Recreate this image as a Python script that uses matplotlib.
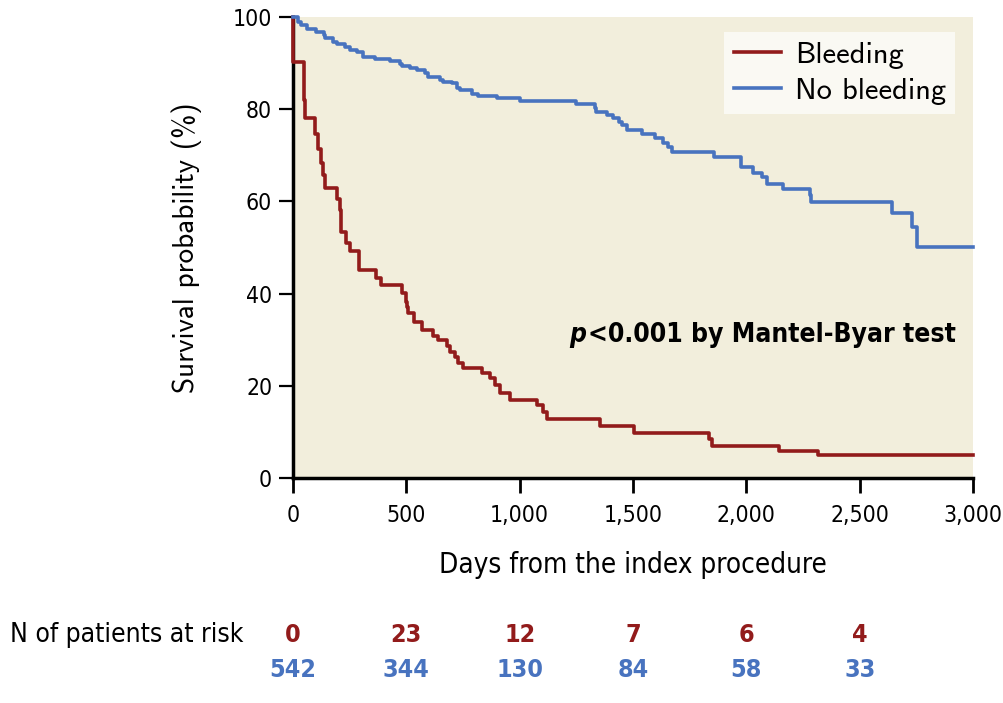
import matplotlib
matplotlib.use("Agg")
import matplotlib.pyplot as plt

# Kaplan-Meier steps: (day of step, survival % after it)
bleed_days = [0, 0, 48, 54, 96, 110, 125, 134, 140, 196, 206, 213, 232, 250, 290,
              368, 390, 479, 499, 505, 509, 534, 568, 619, 641, 678, 693, 715, 729,
              751, 832, 869, 891, 913, 957, 1075, 1104, 1119, 1354, 1506, 1837,
              1850, 2145, 2315, 3000]
bleed_surv = [100, 90.3, 82.0, 78.0, 74.6, 71.3, 68.4, 65.7, 63.0, 60.5, 58.1, 53.3,
              51.0, 49.2, 45.1, 43.4, 41.9, 40.1, 38.2, 37.2, 35.7, 33.9, 32.1, 30.8,
              29.9, 28.6, 27.4, 26.3, 25.0, 23.8, 22.7, 21.6, 20.2, 18.5, 16.9, 15.8,
              14.4, 12.7, 11.3, 9.8, 8.5, 6.9, 5.9, 5.0, 5.0]

nobleed_days = [0, 23, 34, 60, 101, 135, 141, 178, 193, 229, 251, 281, 310, 362, 428,
                472, 479, 516, 546, 582, 597, 649, 663, 700, 722, 737, 788, 818, 898,
                1001, 1248, 1332, 1335, 1384, 1413, 1440, 1450, 1472, 1538, 1597,
                1634, 1656, 1673, 1857, 1976, 2028, 2068, 2093, 2163, 2281, 2284,
                2644, 2729, 2751, 3000]
nobleed_surv = [100, 99.0, 98.3, 97.5, 96.8, 96.1, 95.4, 94.6, 94.1, 93.6, 92.8, 92.5,
                91.4, 90.8, 90.5, 89.9, 89.4, 88.9, 88.4, 87.8, 86.9, 86.3, 86.0, 85.6,
                84.7, 84.2, 83.4, 82.9, 82.4, 81.8, 81.1, 80.2, 79.5, 78.7, 78.0, 77.3,
                76.6, 75.5, 74.6, 73.7, 72.7, 71.9, 70.8, 69.7, 67.4, 66.2, 65.2, 63.7,
                62.6, 61.4, 59.9, 57.5, 54.4, 50.2, 50.2]

risk_days = [0, 500, 1000, 1500, 2000, 2500]
risk_bleed = ["0", "23", "12", "7", "6", "4"]
risk_nobleed = ["542", "344", "130", "84", "58", "33"]

x_ticks = [0, 500, 1000, 1500, 2000, 2500, 3000]
x_ticklabels = ["0", "500", "1,000", "1,500", "2,000", "2,500", "3,000"]
y_ticks = [0, 20, 40, 60, 80, 100]

red = "#921b1b"
blue = "#4873bf"
cond = dict(family=["DejaVu Sans"], fontstretch="condensed")
plain = ["cmss10", "DejaVu Sans"]

fig = plt.figure(figsize=(10.04, 7.03), dpi=100)
ax = fig.add_axes([293 / 1004, 1 - 478 / 703, 680 / 1004, 461 / 703])
ax.set_facecolor("#f2eedc")

ax.step(bleed_days, bleed_surv, where="post", color=red, lw=2.6,
        label="Bleeding", clip_on=False, zorder=3)
ax.step(nobleed_days, nobleed_surv, where="post", color=blue, lw=2.6,
        label="No bleeding", clip_on=False, zorder=3)

ax.set_xlim(0, 3000)
ax.set_ylim(0, 100)
ax.set_xticks(x_ticks)
ax.set_xticklabels(x_ticklabels, fontsize=16.5, **cond)
ax.set_yticks(y_ticks)
ax.set_yticklabels([str(v) for v in y_ticks], fontsize=16.5, **cond)
ax.tick_params(axis="x", length=11, width=2, pad=8)
ax.tick_params(axis="y", length=10, width=1.6, pad=5)

for side in ["top", "right"]:
    ax.spines[side].set_visible(False)
ax.spines["left"].set_linewidth(2.5)
ax.spines["bottom"].set_linewidth(2.5)

ax.set_ylabel("Survival probability (%)", family=plain, fontsize=21, labelpad=22)
ax.set_xlabel("Days from the index procedure", fontsize=20, labelpad=17, **cond)

leg = ax.legend(loc="upper right", bbox_to_anchor=(0.9735, 0.9675), frameon=True,
                fancybox=False, prop={"family": plain, "size": 22},
                handlelength=1.55, handletextpad=0.45, borderpad=0.3,
                labelspacing=0.3, borderaxespad=0)
leg.get_frame().set_facecolor("#faf9f3")
leg.get_frame().set_edgecolor("none")
leg.get_frame().set_alpha(1)

# p-value note: italic "p" placed just left of the rest of the text
rest = ax.text(0.975, 0.31, "<0.001 by Mantel-Byar test", transform=ax.transAxes,
               ha="right", va="center", fontsize=19, fontweight="bold", **cond)
fig.canvas.draw()
bb = rest.get_window_extent().transformed(ax.transAxes.inverted())
ax.text(bb.x0 - 0.003, 0.31, "p", transform=ax.transAxes, ha="right", va="center",
        fontsize=19, fontweight="bold", fontstyle="italic", **cond)

# numbers at risk table under the axis
fig.text(10 / 1004, 1 - 635 / 703, "N of patients at risk",
         fontsize=19, ha="left", va="center", **cond)
for d, rb, rn in zip(risk_days, risk_bleed, risk_nobleed):
    xf = ax.transData.transform((d, 0))[0] / fig.bbox.width
    fig.text(xf, 1 - 635 / 703, rb, fontsize=18, fontweight="bold",
             color=red, ha="center", va="center", **cond)
    fig.text(xf, 1 - 670 / 703, rn, fontsize=18, fontweight="bold",
             color=blue, ha="center", va="center", **cond)

fig.savefig("out.png", dpi=100)
